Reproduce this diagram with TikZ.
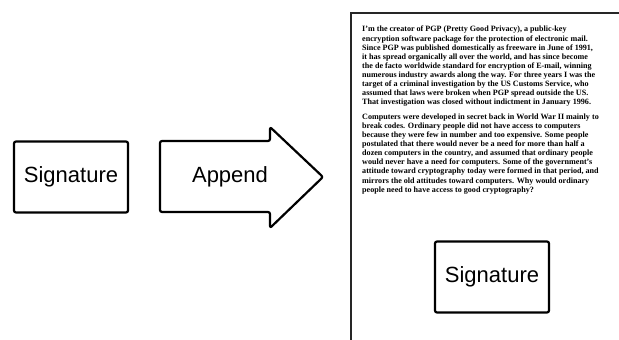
\documentclass[tikz,border=0pt]{standalone}
\usepackage{fontspec}
\setmainfont{Liberation Serif}
\newfontfamily\boxfont{Liberation Sans}
\begin{document}
\begin{tikzpicture}[x=1pt,y=-1pt,
  outline/.style={draw=black, line width=2.2pt, rounded corners=2pt, line join=round},
  boxlabel/.style={font=\boxfont\fontsize{22}{24}\selectfont, inner sep=0pt},
  sigbox/.style={outline, boxlabel, minimum width=114pt, minimum height=71pt},
  bodytext/.style={font=\bfseries\fontsize{8.1}{9.1}\selectfont, align=left, inner sep=0pt, anchor=north west},
  pageedge/.style={draw=black!85, line width=1.6pt}]
\useasboundingbox (0,0) rectangle (619,340);

% the signature block on its own
\node[sigbox] (sig) at (71,177) {Signature};

% the "Append" arrow
\draw[outline] (160,141) -- (270,141) -- (270,127) -- (323,177)
  -- (270,228) -- (270,212) -- (160,212) -- cycle;
\node[boxlabel] (append) at (230,177) {Append};

% the message page
\coordinate (pagetr) at (619,13);
\coordinate (pagetl) at (351,13);
\coordinate (pagebl) at (351,340);
\draw[pageedge] (pagetr) -- (pagetl) -- (pagebl);

\node[bodytext] (body) at (362,26) {%
I'm the creator of PGP (Pretty Good Privacy), a public-key\\
encryption software package for the protection of electronic mail.\\
Since PGP was published domestically as freeware in June of 1991,\\
it has spread organically all over the world, and has since become\\
the de facto worldwide standard for encryption of E-mail, winning\\
numerous industry awards along the way. For three years I was the\\
target of a criminal investigation by the US Customs Service, who\\
assumed that laws were broken when PGP spread outside the US.\\
That investigation was closed without indictment in January 1996.\\[5.5pt]
Computers were developed in secret back in World War II mainly to\\
break codes. Ordinary people did not have access to computers\\
because they were few in number and too expensive. Some people\\
postulated that there would never be a need for more than half a\\
dozen computers in the country, and assumed that ordinary people\\
would never have a need for computers. Some of the government's\\
attitude toward cryptography today were formed in that period, and\\
mirrors the old attitudes toward computers. Why would ordinary\\
people need to have access to good cryptography?};

% the signature appended to the page
\node[sigbox] (sig2) at (492,277) {Signature};
\end{tikzpicture}
\end{document}
